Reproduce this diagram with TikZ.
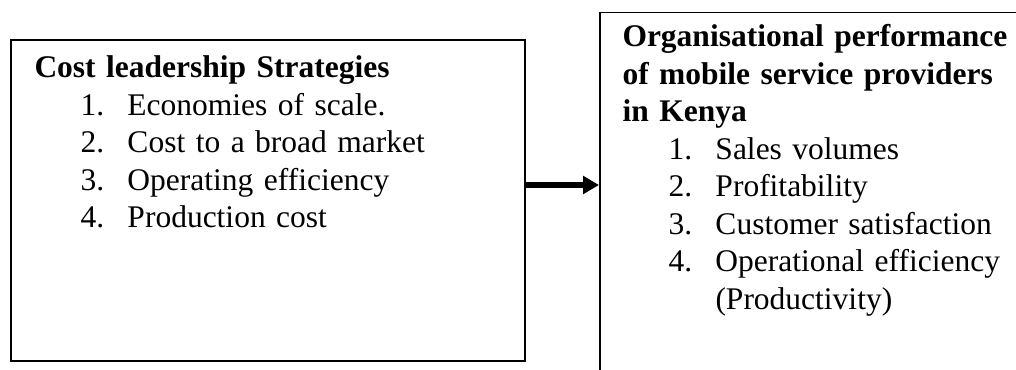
\documentclass[tikz,border=0pt]{standalone}
\usepackage{fontspec}
\setmainfont{Liberation Serif}
\usetikzlibrary{
positioning,%
calc,%
arrows.meta
}
\tikzset{
    framebox/.style={draw, line width=0.8pt, inner sep=0pt, anchor=north west},
    boxtext/.style={inner sep=0pt, anchor=base west, align=left, text width=200pt,
        font=\fontsize{12.6}{15}\selectfont},
    flow/.style={-{Triangle[length=6.4pt, width=7pt]}, line width=2.4pt}
}
\newcommand{\lstitem}[2]{\hspace*{18.4pt}\makebox[18.8pt][l]{#1}#2}

\begin{document}
\begin{tikzpicture}[x=0.4pt, y=-0.4pt]
            \useasboundingbox (0,0) rectangle (1016,370);
            \clip (0,0) rectangle (1016,370);
            \node[framebox, minimum width=205.6pt, minimum height=128.4pt] (cost) at (10,39) {};
            \node[framebox, line width=0.6pt, minimum width=180pt, minimum height=160pt] (perf) at (599,12) {};
            \node[boxtext] (costtext) at ([shift={(9.6pt,-15.6pt)}]cost.north west) {%
                \textbf{Cost leadership Strategies}\\
                \lstitem{1.}{Economies of scale.}\\
                \lstitem{2.}{Cost to a broad market}\\
                \lstitem{3.}{Operating efficiency}\\
                \lstitem{4.}{Production cost}};
            \node[boxtext] (perftext) at ([shift={(9.2pt,-14pt)}]perf.north west) {%
                \textbf{\makebox[154.4pt][s]{Organisational performance}}\\
                \textbf{\makebox[154.4pt][s]{of mobile service providers}}\\
                \textbf{in Kenya}\\
                \lstitem{1.}{Sales volumes}\\
                \lstitem{2.}{Profitability}\\
                \lstitem{3.}{Customer satisfaction}\\
                \lstitem{4.}{\makebox[116.4pt][s]{Operational efficiency}}\\
                \lstitem{}{(Productivity)}};
            \draw[flow] ([yshift=6.2pt]cost.east) to ([yshift=6.2pt]cost.east -| perf.west);
        \end{tikzpicture}
\end{document}
